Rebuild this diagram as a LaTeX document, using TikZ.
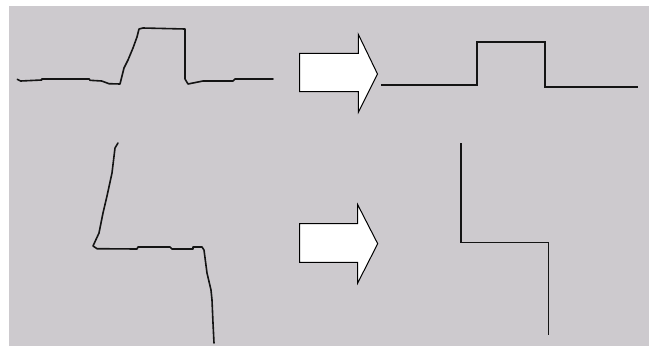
\documentclass[tikz,border=0pt]{standalone}
\definecolor{bggray}{RGB}{205,202,206}
\definecolor{ink}{RGB}{20,20,20}
\tikzset{
  sketch/.style={draw=ink, line width=1.6pt, line join=round, line cap=round},
  clean/.style={draw=ink, line width=1.6pt, line join=miter},
  bigarrow/.style={draw=black, fill=white, line width=1pt, line join=miter}
}
\begin{document}
\begin{tikzpicture}[x=1pt,y=-1pt]
\useasboundingbox (0,0) rectangle (656,346);
\fill[white] (0,0) rectangle (656,346);
\fill[bggray] (9,6) rectangle (649,346);
% top-left freehand sketch
\draw[sketch] (17.3,79.3) -- (20.7,81) -- (41.7,80) -- (41.7,79) -- (89.3,79) -- (90,80.3)
  -- (101.7,81) -- (109,83.7) -- (120,84) -- (124,68) -- (128,60) -- (133,48) -- (137,37)
  -- (139,29) -- (143,28) -- (185,29) -- (185,79) -- (188,84) -- (193,83) -- (203,81)
  -- (233,81) -- (235,79) -- (273,79);
% top arrow
\draw[bigarrow] (299.5,53.3) -- (358.3,53.3) -- (358.3,34.3) -- (377.5,74) -- (358.3,112.3)
  -- (358.3,91.7) -- (299.5,91.7) -- cycle;
% top-right clean
\draw[clean] (381,85) -- (476.7,85) -- (476.7,42) -- (545,42) -- (545,87) -- (637.7,87);
% bottom-left freehand sketch
\draw[sketch] (118,143) -- (115,148) -- (112,173) -- (107,196) -- (103,213) -- (99,233)
  -- (93,246) -- (97,248.7) -- (137,249) -- (138,247) -- (170,247) -- (172,249) -- (193,249)
  -- (193,247) -- (202,247) -- (204,250) -- (207,273) -- (211,290) -- (212,300)
  -- (213,323) -- (214,343);
% bottom arrow
\draw[bigarrow] (299.5,223.7) -- (357.7,223.7) -- (357.7,204.7) -- (377.7,243.7) -- (357.7,283)
  -- (357.7,262.3) -- (299.5,262.3) -- cycle;
% bottom-right clean
\draw[clean] (461,143) -- (461,242.3) -- (548.3,242.3) -- (548.3,334.7);
\end{tikzpicture}
\end{document}
